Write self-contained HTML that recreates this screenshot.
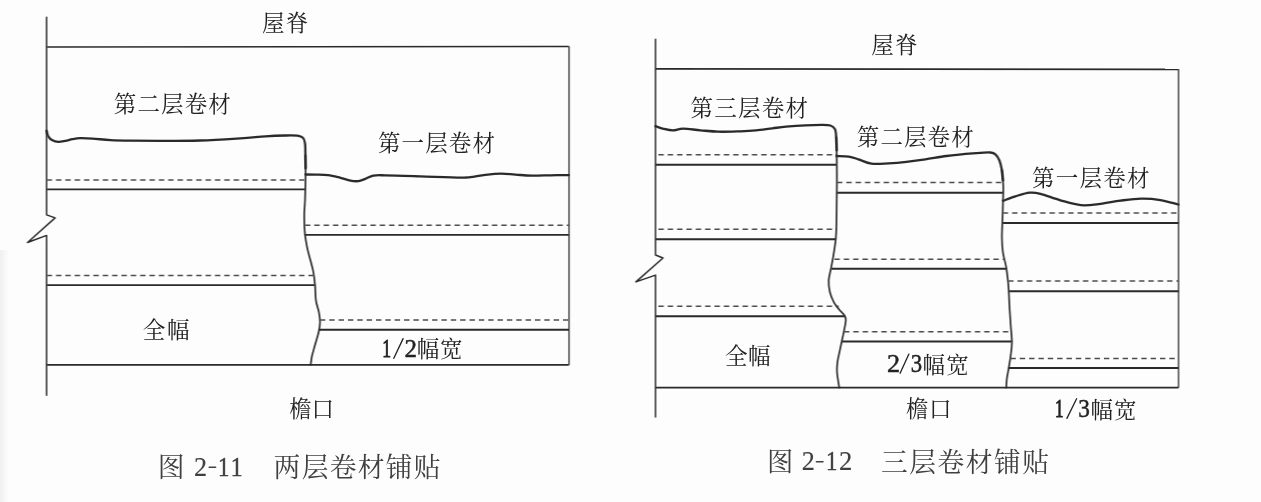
<!DOCTYPE html>
<html lang="zh-CN">
<head>
<meta charset="utf-8">
<title>图 2-11 两层卷材铺贴 / 图 2-12 三层卷材铺贴</title>
<style>
html,body{margin:0;padding:0;background:#fdfdfd;}
body{width:1261px;height:502px;overflow:hidden;font-family:"Liberation Serif","Noto Serif CJK SC",serif;}
svg{display:block;position:absolute;left:0;top:0;}
svg text{font-family:"Liberation Serif","Noto Serif CJK SC",serif;}
</style>
</head>
<body>
<svg width="1261" height="502" viewBox="0 0 1261 502">
<defs>
<linearGradient id="edge" x1="0" y1="0" x2="1" y2="0"><stop offset="0" stop-color="#000" stop-opacity="0.055"/><stop offset="1" stop-color="#000" stop-opacity="0"/></linearGradient>
<filter id="soft" x="0" y="0" width="1261" height="502" filterUnits="userSpaceOnUse"><feGaussianBlur stdDeviation="0.45"/></filter>
</defs>
<rect width="1261" height="502" fill="#fdfdfd"/>
<rect x="0" y="250" width="9" height="252" fill="url(#edge)"/>
<g id="art" filter="url(#soft)" transform="translate(0.4 0)">
<path d="M46.2 17 L46.2 214.6 L54.7 217.6 L27.1 242.2 L46.2 235.1 L46.2 394.9" fill="none" stroke="#2a2a2a" stroke-width="1.5" stroke-linejoin="round" stroke-linecap="round" stroke-linejoin="miter" transform="translate(0 0.3)"/>
<line x1="46.2" y1="46.7" x2="568.6" y2="46.2" stroke="#2a2a2a" stroke-width="1.7" transform="translate(0 0.3)"/>
<line x1="568.6" y1="46.2" x2="568.6" y2="364.5" stroke="#2a2a2a" stroke-width="1.3" transform="translate(0 0.3)"/>
<line x1="46.2" y1="364.5" x2="568.6" y2="364.5" stroke="#2a2a2a" stroke-width="1.7" transform="translate(0 0.3)"/>
<path d="M46.2 130.5C46.5 131.4 46.8 134.4 47.8 136.0C48.8 137.6 50.3 139.1 52.0 140.0C53.7 140.9 55.7 141.4 57.9 141.5C60.1 141.6 62.6 141.0 65.0 140.6C67.3 140.2 69.6 139.3 72.0 138.9C74.4 138.5 76.1 138.0 79.4 137.9C82.7 137.8 86.9 138.0 92.0 138.3C97.1 138.6 103.7 139.5 110.0 139.8C116.3 140.2 121.7 140.3 130.0 140.4C138.3 140.5 148.3 140.6 160.0 140.6C171.7 140.6 186.7 140.6 200.0 140.2C213.3 139.8 229.2 138.7 240.0 138.0C250.8 137.3 257.5 136.5 265.0 136.0C272.5 135.5 279.7 135.3 285.0 135.2C290.3 135.1 294.1 135.0 297.0 135.4C299.9 135.8 301.2 136.2 302.5 137.5C303.8 138.8 304.2 140.1 304.6 143.0C305.0 145.9 304.9 150.8 305.0 155.0C305.1 159.2 305.2 165.8 305.2 168.0" fill="none" stroke="#2a2a2a" stroke-width="2.3" stroke-linejoin="round" stroke-linecap="round" transform="translate(0 0.3)"/>
<path d="M305.0 155.0C305.0 158.3 305.3 167.5 305.2 175.0C305.1 182.5 304.8 193.3 304.6 200.0C304.4 206.7 303.8 209.7 303.8 215.0C303.8 220.3 303.9 226.8 304.4 232.0C304.8 237.2 305.6 241.3 306.5 246.0C307.4 250.7 308.9 255.7 310.0 260.0C311.1 264.3 312.2 267.8 313.0 272.0C313.8 276.2 314.2 280.3 314.6 285.0C315.0 289.7 314.9 295.5 315.5 300.0C316.1 304.5 317.8 308.3 318.5 312.0C319.2 315.7 319.7 318.7 319.6 322.0C319.6 325.3 319.1 328.2 318.2 332.0C317.3 335.8 315.6 341.0 314.5 345.0C313.4 349.0 312.2 352.8 311.5 356.0C310.8 359.2 310.5 363.1 310.3 364.5" fill="none" stroke="#2a2a2a" stroke-width="1.7" stroke-linejoin="round" stroke-linecap="round" transform="translate(0 0.3)"/>
<path d="M305.2 174.2C306.8 174.2 311.3 174.2 315.0 174.3C318.7 174.4 323.4 174.3 327.6 174.8C331.8 175.3 336.3 176.6 340.0 177.5C343.7 178.4 347.0 179.8 350.0 180.3C353.0 180.9 355.5 181.1 358.0 180.8C360.5 180.5 362.5 179.4 365.0 178.5C367.5 177.6 369.5 175.9 372.8 175.3C376.1 174.7 377.1 174.9 385.0 175.0C392.9 175.1 407.4 175.6 420.0 176.0C432.6 176.4 452.4 177.2 460.7 177.3C469.0 177.4 465.9 177.3 470.0 176.8C474.1 176.3 479.9 175.1 485.0 174.5C490.1 173.9 495.8 173.3 500.8 173.3C505.8 173.3 510.0 174.0 515.0 174.3C520.0 174.6 525.2 175.2 531.0 175.3C536.8 175.4 543.7 175.1 550.0 175.0C556.3 174.9 565.5 174.8 568.6 174.8" fill="none" stroke="#2a2a2a" stroke-width="2.3" stroke-linejoin="round" stroke-linecap="round" transform="translate(0 0.3)"/>
<line x1="46.2" y1="179.6" x2="304.8" y2="179.6" stroke="#4c4c4c" stroke-width="1.55" stroke-dasharray="5.4 3.95" transform="translate(0 0.3)"/>
<line x1="46.2" y1="189.1" x2="304.8" y2="189.1" stroke="#2a2a2a" stroke-width="1.9" transform="translate(0 0.3)"/>
<line x1="46.2" y1="275.3" x2="313" y2="275.3" stroke="#4c4c4c" stroke-width="1.55" stroke-dasharray="5.4 3.95" transform="translate(0 0.3)"/>
<line x1="46.2" y1="284.8" x2="314.5" y2="284.8" stroke="#2a2a2a" stroke-width="1.9" transform="translate(0 0.3)"/>
<line x1="304.5" y1="225.0" x2="568.6" y2="225.0" stroke="#4c4c4c" stroke-width="1.55" stroke-dasharray="5.4 3.95" transform="translate(0 0.3)"/>
<line x1="304.5" y1="234.6" x2="568.6" y2="234.6" stroke="#2a2a2a" stroke-width="1.9" transform="translate(0 0.3)"/>
<line x1="319.5" y1="319.8" x2="568.6" y2="319.8" stroke="#4c4c4c" stroke-width="1.55" stroke-dasharray="5.4 3.95" transform="translate(0 0.3)"/>
<line x1="318.5" y1="329.4" x2="568.6" y2="329.4" stroke="#2a2a2a" stroke-width="1.9" transform="translate(0 0.3)"/>
<text transform="translate(381.75 356.70) scale(0.719 1)" font-size="24.5" fill="#222" stroke="#222" stroke-width="0.9">1</text>
<line x1="393.4" y1="358.3" x2="402.7" y2="338.6" stroke="#222" stroke-width="1.3" stroke-linecap="round"/>
<text transform="translate(404.00 356.70) scale(1.018 1)" font-size="24.5" fill="#222" stroke="#222" stroke-width="0.45">2</text>
<text transform="translate(193.55 475.50) scale(0.942 1)" font-size="27.8" fill="#404040" stroke="#404040" stroke-width="0.15">2</text>
<line x1="208.8" y1="467.3" x2="215.2" y2="467.3" stroke="#404040" stroke-width="1.5" stroke-linecap="round"/>
<text transform="translate(217.70 475.50) scale(0.817 1)" font-size="27.8" fill="#404040" stroke="#404040" stroke-width="0.5">1</text>
<text transform="translate(230.33 475.50) scale(0.848 1)" font-size="27.8" fill="#404040" stroke="#404040" stroke-width="0.5">1</text>
<path d="M655.1 38.9 L655.1 254.7 L662.6 257.7 L635.5 281.6 L655.1 274.8 L655.1 416.7" fill="none" stroke="#2a2a2a" stroke-width="1.5" stroke-linejoin="round" stroke-linecap="round" stroke-linejoin="miter" transform="translate(0 0.3)"/>
<line x1="655.1" y1="68.5" x2="1178.2" y2="69.0" stroke="#2a2a2a" stroke-width="1.7" transform="translate(0 0.3)"/>
<line x1="1178.2" y1="69.0" x2="1178.2" y2="387.3" stroke="#2a2a2a" stroke-width="1.3" transform="translate(0 0.3)"/>
<line x1="655.1" y1="387.3" x2="1178.2" y2="387.3" stroke="#2a2a2a" stroke-width="1.7" transform="translate(0 0.3)"/>
<path d="M655.1 125.9C656.4 126.3 660.1 127.8 663.0 128.5C665.9 129.2 669.4 130.1 672.7 130.1C676.0 130.1 678.2 128.3 682.7 128.3C687.2 128.3 694.1 129.5 700.0 130.0C705.9 130.5 711.2 131.2 717.9 131.4C724.6 131.6 733.7 131.2 740.0 131.0C746.3 130.8 750.2 130.6 755.5 130.1C760.8 129.6 767.0 128.6 772.0 128.0C777.0 127.4 780.1 126.9 785.6 126.4C791.1 125.9 799.1 125.3 805.0 125.0C810.9 124.7 816.6 124.6 820.8 124.6C825.0 124.6 827.7 124.5 830.0 125.2C832.3 125.9 833.6 126.9 834.6 128.9C835.6 130.9 835.5 133.5 835.8 137.0C836.1 140.5 836.2 147.8 836.3 150.0" fill="none" stroke="#2a2a2a" stroke-width="2.3" stroke-linejoin="round" stroke-linecap="round" transform="translate(0 0.3)"/>
<path d="M835.8 137.0C835.9 140.0 836.2 147.8 836.3 155.0C836.4 162.2 836.5 172.5 836.5 180.0C836.5 187.5 836.4 192.5 836.3 200.0C836.2 207.5 836.2 218.5 836.0 225.0C835.8 231.5 835.8 234.0 835.3 239.0C834.8 244.0 833.8 250.2 833.0 255.0C832.2 259.8 831.4 263.8 830.6 268.0C829.8 272.2 828.5 276.0 828.3 280.0C828.1 284.0 828.6 288.3 829.5 292.0C830.4 295.7 832.0 299.2 833.5 302.0C835.0 304.8 836.8 306.8 838.5 309.0C840.2 311.2 842.8 313.2 843.9 315.0C845.0 316.8 845.5 317.3 845.4 320.0C845.3 322.7 844.2 327.4 843.5 331.0C842.8 334.6 842.0 337.9 841.3 341.4C840.5 344.9 839.7 348.6 839.0 352.0C838.3 355.4 837.4 358.7 837.0 362.0C836.6 365.3 836.3 367.8 836.6 372.0C836.9 376.2 838.4 384.8 838.8 387.3" fill="none" stroke="#2a2a2a" stroke-width="1.7" stroke-linejoin="round" stroke-linecap="round" transform="translate(0 0.3)"/>
<path d="M836.3 155.7C838.3 155.8 844.8 155.8 848.4 156.3C852.0 156.9 854.2 157.8 858.0 159.0C861.8 160.2 866.0 162.6 871.0 163.3C876.0 164.0 882.2 163.3 888.0 163.0C893.8 162.7 899.8 162.2 906.0 161.5C912.2 160.8 918.3 160.0 925.0 159.0C931.7 158.0 939.3 156.6 946.0 155.7C952.7 154.8 959.3 154.0 965.0 153.5C970.7 153.0 975.8 152.7 980.0 152.5C984.2 152.3 987.7 151.9 990.2 152.2C992.7 152.4 993.5 152.7 995.0 154.0C996.5 155.3 997.9 157.5 999.0 160.2C1000.1 162.9 1000.9 166.7 1001.5 170.0C1002.1 173.3 1002.3 178.3 1002.5 180.0" fill="none" stroke="#2a2a2a" stroke-width="2.3" stroke-linejoin="round" stroke-linecap="round" transform="translate(0 0.3)"/>
<path d="M1001.5 170.0C1001.7 172.5 1002.6 180.0 1002.8 185.0C1003.0 190.0 1002.7 195.0 1002.6 200.0C1002.5 205.0 1002.4 208.8 1002.2 215.0C1002.0 221.2 1001.5 230.8 1001.5 237.0C1001.5 243.2 1001.8 247.0 1002.5 252.0C1003.2 257.0 1005.0 262.3 1005.8 267.0C1006.6 271.7 1007.1 276.2 1007.5 280.0C1007.9 283.8 1008.0 285.8 1008.3 290.0C1008.5 294.2 1008.7 299.2 1009.0 305.0C1009.3 310.8 1009.9 318.8 1010.3 325.0C1010.7 331.2 1011.5 337.0 1011.5 342.0C1011.5 347.0 1010.8 350.7 1010.3 355.0C1009.8 359.3 1008.9 364.0 1008.3 367.8C1007.7 371.6 1006.9 374.8 1006.5 378.0C1006.1 381.2 1005.9 385.8 1005.8 387.3" fill="none" stroke="#2a2a2a" stroke-width="1.7" stroke-linejoin="round" stroke-linecap="round" transform="translate(0 0.3)"/>
<path d="M1002.8 200.4C1004.8 199.7 1010.6 197.3 1015.0 196.0C1019.4 194.7 1024.9 192.8 1029.1 192.4C1033.3 192.0 1034.8 192.2 1040.0 193.5C1045.2 194.8 1053.2 198.1 1060.0 200.0C1066.8 201.9 1073.9 204.3 1080.6 204.9C1087.3 205.5 1093.4 204.3 1100.0 203.5C1106.6 202.7 1113.2 201.2 1120.0 200.3C1126.8 199.5 1134.1 198.5 1140.8 198.4C1147.5 198.3 1153.8 198.8 1160.0 199.8C1166.2 200.8 1175.0 203.5 1178.0 204.2" fill="none" stroke="#2a2a2a" stroke-width="2.3" stroke-linejoin="round" stroke-linecap="round" transform="translate(0 0.3)"/>
<line x1="655.1" y1="154.5" x2="836" y2="154.5" stroke="#4c4c4c" stroke-width="1.5" stroke-dasharray="5.4 3.95" stroke-dashoffset="6.5" transform="translate(0 0.3)"/>
<line x1="655.1" y1="164.5" x2="836" y2="164.5" stroke="#2a2a2a" stroke-width="2.0" transform="translate(0 0.3)"/>
<line x1="655.1" y1="228.9" x2="835.8" y2="228.9" stroke="#4c4c4c" stroke-width="1.5" stroke-dasharray="5.4 3.95" stroke-dashoffset="6.5" transform="translate(0 0.3)"/>
<line x1="655.1" y1="238.9" x2="835.3" y2="238.9" stroke="#2a2a2a" stroke-width="2.0" transform="translate(0 0.3)"/>
<line x1="655.1" y1="306.0" x2="838.2" y2="306.0" stroke="#4c4c4c" stroke-width="1.5" stroke-dasharray="5.4 3.95" stroke-dashoffset="6.5" transform="translate(0 0.3)"/>
<line x1="655.1" y1="315.9" x2="844.5" y2="315.9" stroke="#2a2a2a" stroke-width="2.0" transform="translate(0 0.3)"/>
<line x1="836.5" y1="182.3" x2="1002.5" y2="182.3" stroke="#4c4c4c" stroke-width="1.5" stroke-dasharray="5.4 3.95" transform="translate(0 0.3)"/>
<line x1="836.5" y1="192.4" x2="1002.7" y2="192.4" stroke="#2a2a2a" stroke-width="2.0" transform="translate(0 0.3)"/>
<line x1="834" y1="259.0" x2="1004" y2="259.0" stroke="#4c4c4c" stroke-width="1.5" stroke-dasharray="5.4 3.95" transform="translate(0 0.3)"/>
<line x1="830.8" y1="268.5" x2="1006" y2="268.5" stroke="#2a2a2a" stroke-width="2.0" transform="translate(0 0.3)"/>
<line x1="843.5" y1="331.4" x2="1010.5" y2="331.4" stroke="#4c4c4c" stroke-width="1.5" stroke-dasharray="5.4 3.95" transform="translate(0 0.3)"/>
<line x1="841.3" y1="341.2" x2="1011.4" y2="341.2" stroke="#2a2a2a" stroke-width="2.0" transform="translate(0 0.3)"/>
<line x1="1002.3" y1="212.8" x2="1178.2" y2="212.8" stroke="#4c4c4c" stroke-width="1.5" stroke-dasharray="5.4 3.95" transform="translate(0 0.3)"/>
<line x1="1002.2" y1="222.8" x2="1178.2" y2="222.8" stroke="#2a2a2a" stroke-width="2.0" transform="translate(0 0.3)"/>
<line x1="1007.7" y1="280.8" x2="1178.2" y2="280.8" stroke="#4c4c4c" stroke-width="1.5" stroke-dasharray="5.4 3.95" transform="translate(0 0.3)"/>
<line x1="1008.4" y1="290.9" x2="1178.2" y2="290.9" stroke="#2a2a2a" stroke-width="2.0" transform="translate(0 0.3)"/>
<line x1="1010" y1="358.2" x2="1178.2" y2="358.2" stroke="#4c4c4c" stroke-width="1.5" stroke-dasharray="5.4 3.95" transform="translate(0 0.3)"/>
<line x1="1008.3" y1="367.8" x2="1178.2" y2="367.8" stroke="#2a2a2a" stroke-width="2.0" transform="translate(0 0.3)"/>
<text transform="translate(886.55 372.20) scale(1.082 1)" font-size="24.2" fill="#222" stroke="#222" stroke-width="0.45">2</text>
<line x1="899.7" y1="373.2" x2="908.5" y2="354.1" stroke="#222" stroke-width="1.3" stroke-linecap="round"/>
<text transform="translate(910.31 372.20) scale(0.940 1)" font-size="24.2" fill="#222" stroke="#222" stroke-width="0.45">3</text>
<text transform="translate(1054.70 416.90) scale(0.704 1)" font-size="24.2" fill="#222" stroke="#222" stroke-width="0.9">1</text>
<line x1="1066.5" y1="418.4" x2="1076.2" y2="398.8" stroke="#222" stroke-width="1.3" stroke-linecap="round"/>
<text transform="translate(1077.89 416.90) scale(0.960 1)" font-size="24.2" fill="#222" stroke="#222" stroke-width="0.45">3</text>
<text transform="translate(801.35 469.90) scale(0.942 1)" font-size="27.8" fill="#404040" stroke="#404040" stroke-width="0.15">2</text>
<line x1="816" y1="461.7" x2="822.6" y2="461.7" stroke="#404040" stroke-width="1.5" stroke-linecap="round"/>
<text transform="translate(825.50 469.90) scale(0.817 1)" font-size="27.8" fill="#404040" stroke="#404040" stroke-width="0.5">1</text>
<text transform="translate(838.53 469.90) scale(0.960 1)" font-size="27.8" fill="#404040" stroke="#404040" stroke-width="0.15">2</text>
</g>
<g id="labels" transform="translate(0.4 0)" font-family="Liberation Serif, Noto Serif CJK SC, serif" lengthAdjust="spacing">
<text x="261.6" y="30.6" font-size="22.5" textLength="46.3" fill="#222">屋脊</text>
<text x="113.4" y="112.0" font-size="22.5" textLength="117.0" fill="#222">第二层卷材</text>
<text x="377.6" y="151.4" font-size="22.5" textLength="116.9" fill="#222">第一层卷材</text>
<text x="142.3" y="338.1" font-size="22.5" textLength="46.7" fill="#222">全幅</text>
<text x="416.3" y="357.1" font-size="22.5" textLength="45.9" fill="#222">幅宽</text>
<text x="288.8" y="417.1" font-size="22.5" textLength="44.7" fill="#222">檐口</text>
<text x="157.4" y="477.0" font-size="26.8" fill="#404040">图</text>
<text x="273.2" y="477.0" font-size="26.8" textLength="167.0" fill="#404040">两层卷材铺贴</text>
<text x="870.8" y="53.1" font-size="22.5" textLength="46.2" fill="#222">屋脊</text>
<text x="690.2" y="115.8" font-size="22.5" textLength="117.5" fill="#222">第三层卷材</text>
<text x="856.4" y="145.4" font-size="22.5" textLength="116.9" fill="#222">第二层卷材</text>
<text x="1031.6" y="185.8" font-size="22.5" textLength="117.4" fill="#222">第一层卷材</text>
<text x="724.7" y="364.1" font-size="22.5" textLength="45.3" fill="#222">全幅</text>
<text x="922.1" y="372.5" font-size="22.5" textLength="46.3" fill="#222">幅宽</text>
<text x="905.7" y="417.3" font-size="22.5" textLength="45.5" fill="#222">檐口</text>
<text x="1090.2" y="417.5" font-size="22.5" textLength="45.8" fill="#222">幅宽</text>
<text x="766.5" y="471.2" font-size="26.3" fill="#404040">图</text>
<text x="880.7" y="472.2" font-size="26.8" textLength="168.0" fill="#404040">三层卷材铺贴</text>
</g>
</svg>
</body>
</html>
